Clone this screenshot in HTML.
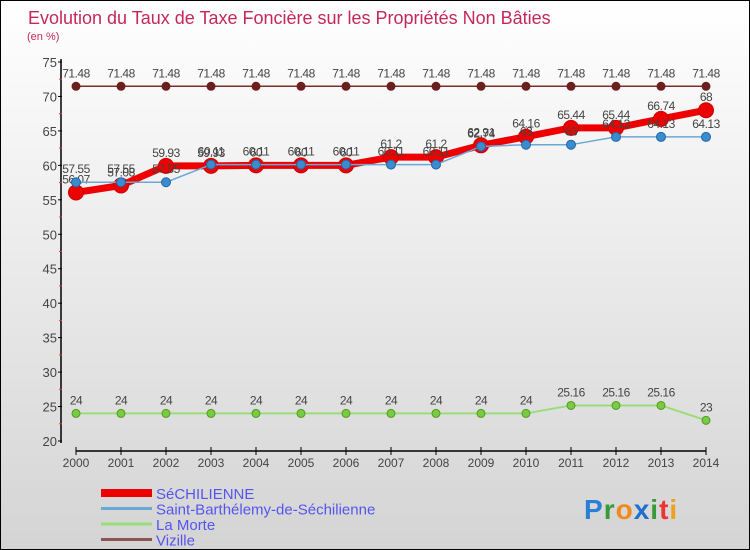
<!DOCTYPE html>
<html><head><meta charset="utf-8"><style>
body{margin:0;}
#wrap{position:relative;width:748px;height:548px;border:1px solid #000;background:linear-gradient(#ffffff,#d4d4d4);overflow:hidden;font-family:"Liberation Sans",sans-serif;}
svg{position:absolute;left:0;top:0}
</style></head><body>
<div id="wrap">
<svg id="chart" width="750" height="550"></svg>
</div>
<script>
const years=[2000,2001,2002,2003,2004,2005,2006,2007,2008,2009,2010,2011,2012,2013,2014];
const sechilienne=[56.07,57.08,59.93,59.93,60,60,60,61.2,61.2,62.91,64.16,65.44,65.44,66.74,68];
const stBarth=[57.55,57.55,57.55,60.11,60.11,60.11,60.11,60.11,60.11,62.74,63,63,64.13,64.13,64.13];
const laMorte=[24,24,24,24,24,24,24,24,24,24,24,25.16,25.16,25.16,23];
const vizille=[71.48,71.48,71.48,71.48,71.48,71.48,71.48,71.48,71.48,71.48,71.48,71.48,71.48,71.48,71.48];
const yTicks=[20,25,30,35,40,45,50,55,60,65,70,75];
const seriesNames=["SéCHILIENNE","Saint-Barthélemy-de-Séchilienne","La Morte","Vizille"];

const NS="http://www.w3.org/2000/svg";
const svg=document.getElementById('chart');
function X(i){return 75+i*45;}
function Y(v){return 440-(v-20)*(379/55);}
function el(t,a,p){const e=document.createElementNS(NS,t);for(const k in a)e.setAttribute(k,a[k]);(p||svg).appendChild(e);return e;}

let t=el('text',{x:27,y:23,'font-size':18,fill:'#c4285a'});t.textContent="Evolution du Taux de Taxe Foncière sur les Propriétés Non Bâties";


t=el('text',{x:26,y:39,'font-size':11,fill:'#c4285a'});t.textContent="(en %)";



let a=el('line',{x1:60,y1:58,x2:60,y2:442,stroke:'#000','stroke-width':1.5});


yTicks.forEach(v=>{
  el('line',{x1:57,y1:Y(v),x2:61,y2:Y(v),stroke:'#000'});
  const tx=el('text',{x:56,y:Y(v)+5,'font-size':13,fill:'#444','text-anchor':'end'});tx.textContent=v;
  
  
  if(v<75) el('line',{x1:58,y1:Y(v+2.5),x2:61,y2:Y(v+2.5),stroke:'#e33'});
});
a=el('line',{x1:75,y1:450,x2:705,y2:450,stroke:'#000','stroke-width':1.5});


years.forEach((yr,i)=>{
  el('line',{x1:X(i),y1:446,x2:X(i),y2:454,stroke:'#000'});
  const tx=el('text',{x:X(i),y:466,'font-size':12,fill:'#444','text-anchor':'middle'});tx.textContent=yr;
  
  
});

function series(vals,color,w,r,name,dotFill,dotStroke){
  const g=el('g',{});
  
  
  el('polyline',{points:vals.map((v,i)=>X(i)+','+Y(v)).join(' '),fill:'none',stroke:color,'stroke-width':w,'stroke-linejoin':'round'},g);
  vals.forEach((v,i)=>{
    const c=el('circle',{cx:X(i),cy:Y(v),r:r,fill:dotFill,stroke:dotStroke,'stroke-width':1},g);
    
    
  });
  vals.forEach((v,i)=>{
    const tx=el('text',{x:X(i),y:Y(v)-9,'font-size':12,fill:'#444','text-anchor':'middle','letter-spacing':'-0.5'},g);tx.textContent=v;
    
    
  });
}
series(vizille,'#7b2d2d',1.5,4,'series-vizille','#6b1f1f','#6b1f1f');
series(laMorte,'#99dd77',2,4,'series-la-morte','#77cc44','#559922');
series(sechilienne,'#ee0000',7,7.5,'series-sechilienne','#ee0000','#cc0000');
series(stBarth,'#6aa8d8',1.5,4.5,'series-saint-barthelemy','#3b8ccc','#2266aa');

const legColors=['#ee0000','#6aa8d8','#99dd77','#8b5555'];
const legW=[8,3,3,3];
seriesNames.forEach((n,i)=>{
  const y=492+i*15.5;
  const g=el('g',{});
  
  
  el('line',{x1:100,y1:y,x2:151,y2:y,stroke:legColors[i],'stroke-width':legW[i]},g);
  const tx=el('text',{x:155,y:y+6,'font-size':15,fill:'#5555ee'},g);tx.textContent=n;
});

const lg=el('text',{x:583,y:518,'font-size':28,'font-weight':'bold','letter-spacing':'1'});


[['P','#2a7fd4'],['r','#3a9a3a'],['o','#f08a1c'],['x','#1e6fd0'],['i','#3a9a3a'],['t','#e33'],['i','#f0a020']].forEach(([c,f])=>{
  const s=el('tspan',{fill:f},lg);s.textContent=c;
});
</script>
</body></html>
